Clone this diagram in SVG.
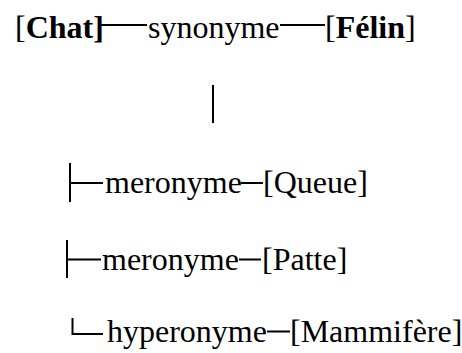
<svg xmlns="http://www.w3.org/2000/svg" width="462" height="353" viewBox="0 0 462 353">
<style>
.c{stroke:#000;stroke-width:2;fill:none}
</style>
<rect width="462" height="353" fill="#fff"/>
<g id="connectors">
<g class="c">
<line x1="101" y1="25" x2="147" y2="25"/>
<line x1="280" y1="25" x2="325" y2="25"/>
<line x1="213" y1="85" x2="213" y2="123"/>
<line x1="70" y1="163" x2="70" y2="202"/>
<line x1="70" y1="183" x2="103" y2="183"/>
<line x1="241" y1="183" x2="263" y2="183"/>
<line x1="67" y1="240" x2="67" y2="278"/>
<line x1="67" y1="259.5" x2="101" y2="259.5"/>
<line x1="239" y1="259.5" x2="261" y2="259.5"/>
<polyline points="72.5,318 72.5,334 103,334"/>
<line x1="267" y1="331.5" x2="290" y2="331.5"/>
</g>
<text x="148" y="38" font-family="Times New Roman" font-size="32">synonyme</text>
<text x="105" y="193" font-family="Times New Roman" font-size="32">meronyme</text>
<text x="102" y="270" font-family="Times New Roman" font-size="32">meronyme</text>
<text x="107" y="342" font-family="Times New Roman" font-size="32">hyperonyme</text>
</g>
<g id="chat"><text x="15" y="38" font-family="Times New Roman" font-size="32">[<tspan font-weight="bold">Chat]</tspan></text></g>
<g id="felin"><text x="325" y="38" font-family="Times New Roman" font-size="32">[<tspan font-weight="bold">Félin</tspan>]</text></g>
<g id="queue"><text x="263" y="193" font-family="Times New Roman" font-size="32">[Queue]</text></g>
<g id="patte"><text x="262" y="270" font-family="Times New Roman" font-size="32">[Patte]</text></g>
<g id="mammifere"><text x="290" y="342" font-family="Times New Roman" font-size="32">[Mammifère]</text></g>
</svg>
